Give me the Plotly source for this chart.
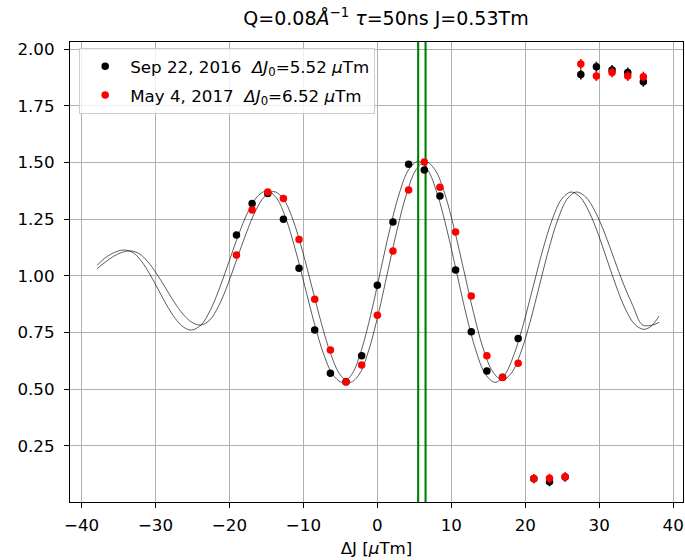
import plotly.graph_objects as go

# Measured spin-echo points (ΔJ in µTm) for the two runs
dj_points = [-19.05, -16.93, -14.82, -12.70, -10.59, -8.47, -6.35, -4.24, -2.12, 0.00,
             2.11, 4.23, 6.35, 8.46, 10.58, 12.70, 14.81, 16.93, 19.04, 21.16,
             23.28, 25.39, 27.51, 29.62, 31.74, 33.86, 35.97]

sep2016_y = [1.180, 1.319, 1.363, 1.250, 1.034, 0.761, 0.570, 0.533, 0.647, 0.959,
             1.238, 1.492, 1.467, 1.352, 1.026, 0.753, 0.580, 0.553, 0.723, 0.105,
             0.091, 0.112, 1.889, 1.923, 1.908, 1.897, 1.857]
sep2016_err = [0.012] * 19 + [0.02] * 3 + [0.022] * 5

may2017_y = [1.092, 1.291, 1.370, 1.341, 1.160, 0.897, 0.673, 0.532, 0.607, 0.826,
             1.110, 1.379, 1.502, 1.391, 1.194, 0.911, 0.647, 0.551, 0.614, 0.106,
             0.107, 0.113, 1.935, 1.882, 1.897, 1.882, 1.879]
may2017_err = [0.012] * 19 + [0.02] * 3 + [0.022] * 5

# Fitted echo curves
fit_sep_j = [-37.9, -36.9, -35.9, -35.0, -34.1,
             -32.975, -31.85, -30.725, -29.6, -28.475, -27.35, -26.225, -25.1,
             -23.825, -22.55, -21.275, -20.0, -18.725, -17.45, -16.175, -14.9,
             -13.625, -12.35, -11.075, -9.8, -8.525, -7.25, -5.975, -4.7,
             -3.425, -2.15, -0.875, 0.4, 1.675, 2.95, 4.225, 5.5,
             6.8, 8.1, 9.4, 10.7, 12.0, 13.3, 14.6, 15.9,
             17.19, 18.48, 19.76, 21.05, 22.34, 23.63, 24.91, 26.2,
             27.43, 28.65, 29.88, 31.1, 32.33, 33.55, 34.78, 36.0,
             37.0, 38.1]
fit_sep_y = [1.046, 1.077, 1.098, 1.110, 1.114,
             1.101, 1.062, 1.005, 0.938, 0.870, 0.813, 0.774, 0.761,
             0.784, 0.851, 0.951, 1.068, 1.186, 1.285, 1.352, 1.375,
             1.343, 1.251, 1.114, 0.953, 0.791, 0.654, 0.562, 0.530,
             0.567, 0.673, 0.831, 1.018, 1.204, 1.362, 1.468, 1.505,
             1.468, 1.362, 1.204, 1.018, 0.831, 0.673, 0.567, 0.530,
             0.562, 0.653, 0.789, 0.950, 1.111, 1.247, 1.338, 1.370,
             1.347, 1.281, 1.183, 1.067, 0.951, 0.853, 0.787, 0.764,
             0.777, 0.823]

fit_may_j = [-37.9, -36.8, -35.7, -34.5, -33.4,
             -32.21, -31.03, -29.84, -28.65, -27.46, -26.28, -25.09, -23.9,
             -22.66, -21.43, -20.19, -18.95, -17.71, -16.48, -15.24, -14.0,
             -12.71, -11.43, -10.14, -8.85, -7.56, -6.28, -4.99, -3.7,
             -2.425, -1.15, 0.125, 1.4, 2.675, 3.95, 5.225, 6.5,
             7.8, 9.1, 10.4, 11.7, 13.0, 14.3, 15.6, 16.9,
             18.15, 19.4, 20.65, 21.9, 23.15, 24.4, 25.65, 26.9,
             28.18, 29.45, 30.73, 32.0, 33.28, 34.55, 35.83, 37.1,
             38.1]
fit_may_y = [1.032, 1.060, 1.086, 1.104, 1.110,
             1.098, 1.062, 1.009, 0.947, 0.884, 0.831, 0.795, 0.783,
             0.805, 0.869, 0.965, 1.078, 1.190, 1.286, 1.350, 1.372,
             1.340, 1.249, 1.112, 0.951, 0.790, 0.653, 0.562, 0.530,
             0.567, 0.673, 0.831, 1.018, 1.204, 1.362, 1.468, 1.505,
             1.468, 1.364, 1.207, 1.023, 0.838, 0.681, 0.577, 0.540,
             0.572, 0.662, 0.796, 0.955, 1.114, 1.248, 1.338, 1.370,
             1.348, 1.284, 1.189, 1.076, 0.964, 0.868, 0.784, 0.782,
             0.795]

# Echo centres ΔJ0 (µTm)
dj0_sep = 5.52
dj0_may = 6.52

# Axis limits
x_range = [-41.56, 41.33]
y_range = [0.002, 2.032]

FONT = "DejaVu Sans"
NB = "\u00a0"

fig = go.Figure()

# Fitted curves
for fx, fy in [(fit_sep_j, fit_sep_y), (fit_may_j, fit_may_y)]:
    fig.add_trace(go.Scatter(
        x=fx, y=fy, mode="lines",
        line=dict(color="rgba(0,0,0,0.8)", width=0.8, shape="spline", smoothing=1),
        showlegend=False, hoverinfo="skip"))

# Echo-centre markers spanning the full axis height
for j0 in (dj0_sep, dj0_may):
    fig.add_trace(go.Scatter(
        x=[j0, j0], y=y_range, mode="lines",
        line=dict(color="green", width=2.1),
        showlegend=False, hoverinfo="skip"))

fig.add_trace(go.Scatter(
    x=dj_points, y=sep2016_y, mode="markers",
    marker=dict(color="black", size=7.5),
    error_y=dict(type="data", array=sep2016_err, color="black", thickness=1.5, width=0),
    legendgroup="sep", 
    name=f"Sep 22, 2016{NB}{NB}<i>ΔJ</i><sub>0</sub>={dj0_sep:.2f} <i>μ</i>Tm"))

fig.add_trace(go.Scatter(
    x=dj_points, y=may2017_y, mode="markers",
    marker=dict(color="red", size=7.5),
    error_y=dict(type="data", array=may2017_err, color="red", thickness=1.5, width=0),
    legendgroup="may",
    name=f"May 4, 2017{NB}{NB}<i>ΔJ</i><sub>0</sub>={dj0_may:.2f} <i>μ</i>Tm"))

axis_common = dict(
    showline=True, linecolor="black", linewidth=1.1, mirror=True,
    ticks="outside", ticklen=5, tickwidth=1.1, tickcolor="black",
    showgrid=True, gridcolor="#b0b0b0", gridwidth=1.1, zeroline=False,
    tickfont=dict(family=FONT, size=16.7, color="black"),
)

fig.update_layout(
    width=685, height=560,
    margin=dict(l=70, r=2, t=42, b=58),
    paper_bgcolor="white", plot_bgcolor="white",
    font=dict(family=FONT, color="black"),
    title=dict(
        text="Q=0.08<i>Å</i><sup>−1</sup> <i>τ</i>=50ns J=0.53Tm",
        x=386 / 685, xanchor="center", y=0.967, yanchor="middle",
        font=dict(family=FONT, size=19, color="black")),
    xaxis=dict(axis_common, range=x_range, tickmode="linear", tick0=-40, dtick=10,
               ticklabelstandoff=3,
               title=dict(text="ΔJ [<i>μ</i>Tm]", font=dict(family=FONT, size=16.7), standoff=8)),
    yaxis=dict(axis_common, range=y_range, tickmode="linear", tick0=0.25, dtick=0.25,
               tickformat=".2f", ticklabelstandoff=6),
    legend=dict(
        x=0.015, y=0.987, xanchor="left", yanchor="top",
        bgcolor="rgba(255,255,255,0.8)", bordercolor="#cccccc", borderwidth=1,
        font=dict(family=FONT, size=16.7, color="black"), itemwidth=40,
        tracegroupgap=4),
    showlegend=True,
)

fig.write_html("out.html")
